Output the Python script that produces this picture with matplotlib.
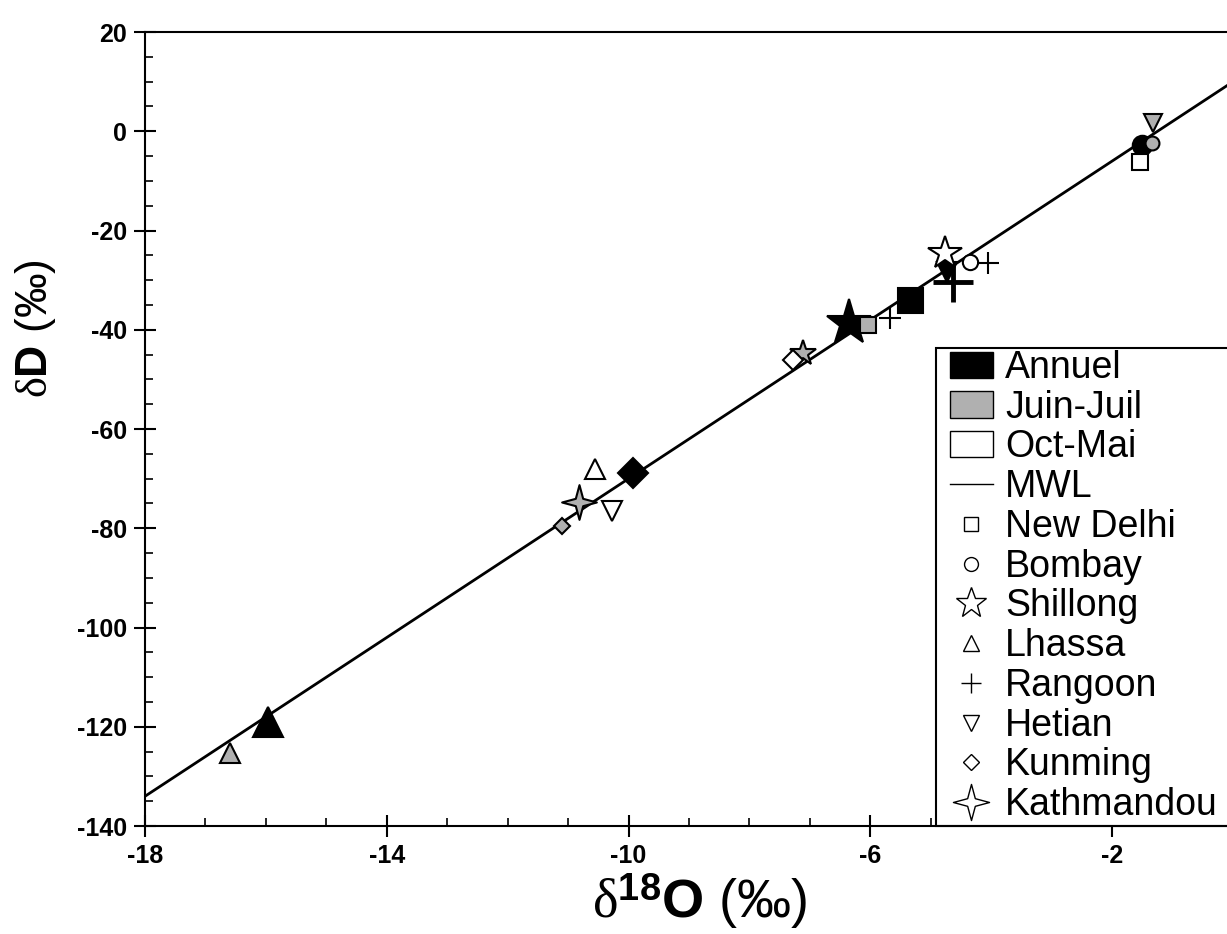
import numpy as np
import matplotlib
matplotlib.use('Agg')
import matplotlib.pyplot as plt
from matplotlib.lines import Line2D
from matplotlib.patches import Patch, Rectangle
from matplotlib.path import Path

plt.rcParams['font.family'] = ['Liberation Sans', 'DejaVu Sans']
plt.rcParams['axes.unicode_minus'] = False
plt.rcParams['mathtext.fontset'] = 'custom'
plt.rcParams['mathtext.rm'] = 'Liberation Serif'
plt.rcParams['mathtext.bf'] = 'Liberation Sans:bold'
plt.rcParams['mathtext.it'] = 'Liberation Serif:italic'

# meteoric water line dD = 8 * d18O + 10
mwl_slope = 8
mwl_intercept = 10
mwl_o18 = [-18, 0]

stations = ['New Delhi', 'Bombay', 'Shillong', 'Lhassa', 'Rangoon', 'Hetian', 'Kunming', 'Kathmandou']

annuel_st = ['Lhassa', 'Kunming', 'Shillong', 'New Delhi', 'Hetian', 'Rangoon', 'Bombay']
annuel_o18 = [-15.97, -9.93, -6.35, -5.34, -4.73, -4.63, -1.50]
annuel_dD = [-119.1, -68.8, -38.6, -34.0, -28.3, -30.3, -2.8]

juin_st = ['Lhassa', 'Kunming', 'Kathmandou', 'Shillong', 'New Delhi', 'Rangoon', 'Bombay', 'Hetian']
juin_o18 = [-16.59, -11.10, -10.82, -7.11, -6.04, -5.67, -1.34, -1.32]
juin_dD = [-125.2, -79.5, -74.8, -44.6, -39.0, -37.6, -2.4, 1.7]

octmai_st = ['Lhassa', 'Hetian', 'Kunming', 'Shillong', 'Bombay', 'Rangoon', 'New Delhi']
octmai_o18 = [-10.55, -10.27, -7.28, -4.76, -4.35, -4.05, -1.54]
octmai_dD = [-68.0, -76.6, -46.0, -24.5, -26.3, -26.5, -6.2]

# 4-point star for Kathmandou
ang = np.arange(8) * np.pi / 4 + np.pi / 2
rad = np.where(np.arange(8) % 2 == 0, 1.0, 0.3)
star4 = Path(np.column_stack([rad * np.cos(ang), rad * np.sin(ang)]).tolist() + [[0, 1]],
             [Path.MOVETO] + [Path.LINETO] * 7 + [Path.CLOSEPOLY])

markers = {'New Delhi': 's', 'Bombay': 'o', 'Shillong': '*', 'Lhassa': '^',
           'Rangoon': '+', 'Hetian': 'v', 'Kunming': 'D', 'Kathmandou': star4}
gray = '#b0b0b0'

size_annuel = {'Lhassa': 21, 'Kunming': 15, 'Shillong': 34, 'New Delhi': 18,
               'Hetian': 14, 'Rangoon': 29, 'Bombay': 14}
size_juin = {'Lhassa': 14, 'Kunming': 8, 'Kathmandou': 25, 'Shillong': 19,
             'New Delhi': 11, 'Rangoon': 16, 'Bombay': 10, 'Hetian': 13}
size_octmai = {'Lhassa': 14, 'Hetian': 14, 'Kunming': 10, 'Shillong': 25,
               'Bombay': 11, 'Rangoon': 16, 'New Delhi': 12}

fig = plt.figure(figsize=(12.27, 9.34), dpi=100)
ax = fig.add_axes([0.1182, 0.1156, 0.8818, 0.8501])

ax.plot(mwl_o18, [mwl_slope * v + mwl_intercept for v in mwl_o18], color='black', lw=2, zorder=2)

def draw(st, xs, ys, face, sizes):
    for s, x, y in zip(st, xs, ys):
        m = markers[s]
        if m == '+':
            ax.plot(x, y, marker='+', ms=sizes[s], mew=3.5 if face == 'black' else 1.5,
                    color='black', ls='none', zorder=3)
        else:
            ax.plot(x, y, marker=m, ms=sizes[s], mfc=face, mec='black', mew=1.5,
                    ls='none', zorder=3)

draw(annuel_st, annuel_o18, annuel_dD, 'black', size_annuel)
draw(juin_st, juin_o18, juin_dD, gray, size_juin)
draw(octmai_st, octmai_o18, octmai_dD, 'white', size_octmai)

ax.set_xlim(-18, -0.1)
ax.set_ylim(-140, 20)
ax.set_xticks([-18, -14, -10, -6, -2])
ax.set_yticks(range(-140, 21, 20))
ax.set_xticks(range(-18, 0), minor=True)
ax.set_yticks(range(-140, 21, 5), minor=True)
ax.tick_params(which='major', direction='inout', length=16, width=1.5, labelsize=18, pad=5)
ax.tick_params(which='minor', direction='in', length=6, width=1.2)
for lab in ax.get_xticklabels() + ax.get_yticklabels():
    lab.set_fontweight('bold')
for side in ['left', 'bottom', 'top']:
    ax.spines[side].set_linewidth(1.5)
ax.spines['right'].set_visible(False)

ax.set_xlabel(r'$\mathrm{\delta}^{\mathbf{18}}\mathbf{O}$ (‰)', fontsize=39)
ax.xaxis.set_label_coords(0.513, -0.057)
ax.set_ylabel(r'$\mathrm{\delta}\mathbf{D}$ (‰)', fontsize=32)
ax.yaxis.set_label_coords(-0.08, 0.627)

# legend box runs off the right edge, as in the original figure
box = Rectangle((936 / 1227, 1 - 826 / 934), 0.26, (826 - 348) / 934, transform=fig.transFigure,
                facecolor='white', edgecolor='black', lw=1.5, clip_on=False, zorder=2.2)
ax.add_patch(box)

handles = [Patch(facecolor='black', edgecolor='black', label='Annuel'),
           Patch(facecolor=gray, edgecolor='black', label='Juin-Juil'),
           Patch(facecolor='white', edgecolor='black', label='Oct-Mai'),
           Line2D([], [], color='black', lw=1, label='MWL')]
leg_sizes = {'New Delhi': 10, 'Bombay': 10, 'Shillong': 23, 'Lhassa': 11,
             'Rangoon': 14, 'Hetian': 11, 'Kunming': 8, 'Kathmandou': 26}
for s in stations:
    if markers[s] == '+':
        handles.append(Line2D([], [], marker='+', ms=leg_sizes[s], mew=1, color='black', ls='none', label=s))
    else:
        handles.append(Line2D([], [], marker=markers[s], ms=leg_sizes[s], mfc='white', mec='black',
                              mew=1, ls='none', label=s))

leg = ax.legend(handles=handles, loc='upper left', bbox_to_anchor=(948 / 1227, 0.6274),
                bbox_transform=fig.transFigure, fontsize=27, frameon=False,
                borderpad=0.05, labelspacing=0.1,
                handlelength=1.15, handleheight=0.7, handletextpad=0.33, borderaxespad=0)
leg.set_zorder(5)

ax.set_xlim(-18, -0.1)
ax.set_ylim(-140, 20)

fig.savefig('out.png', dpi=100)
